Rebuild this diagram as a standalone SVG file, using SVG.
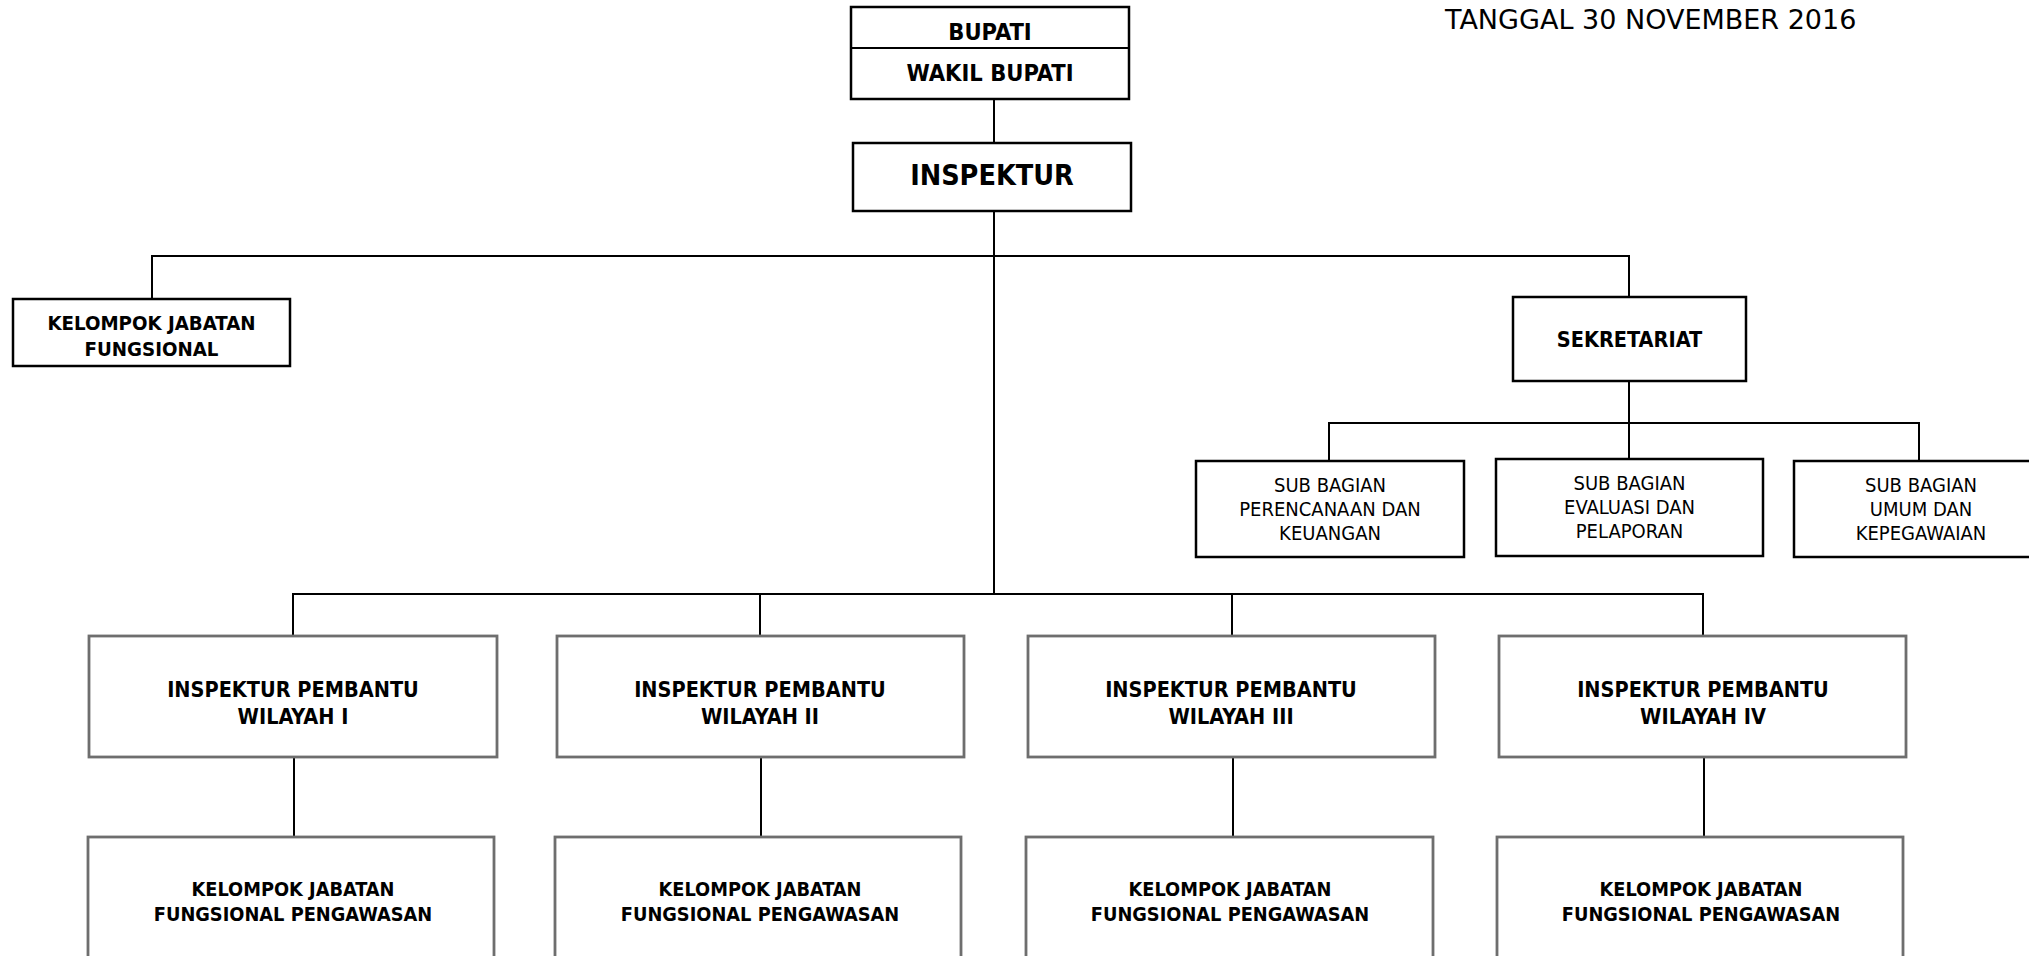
<svg xmlns="http://www.w3.org/2000/svg" width="2029" height="956" viewBox="0 0 2029 956">
<style>
  .bg { fill: #ffffff; }
  .box { fill: #ffffff; stroke: #000000; stroke-width: 2.5; }
  .gbox { fill: #ffffff; stroke: #6e6e6e; stroke-width: 2.8; }
  .conn line { stroke: #000000; stroke-width: 2; }
  text { font-family: "DejaVu Sans Condensed", "DejaVu Sans", sans-serif; fill: #000000; text-anchor: middle; }
  .b { font-weight: bold; }
  .t1 { font-size: 23.5px; }
  .t2 { font-size: 28.5px; }
  .t3 { font-size: 19.8px; }
  .t3a { font-size: 20.3px; }
  .t4 { font-size: 21.5px; }
  .t5 { font-size: 20px; }
  .date { font-family: "DejaVu Sans", sans-serif; font-size: 27px; text-anchor: start; }
</style>
<rect class="bg" x="0" y="0" width="2029" height="956"/>
<g id="connectors" class="conn">
  <line x1="994" y1="99" x2="994" y2="143"/>
  <line x1="994" y1="211" x2="994" y2="595"/>
  <line x1="151" y1="256" x2="1630" y2="256"/>
  <line x1="152" y1="255" x2="152" y2="299"/>
  <line x1="1629" y1="255" x2="1629" y2="297"/>
  <line x1="1629" y1="381" x2="1629" y2="459"/>
  <line x1="1328" y1="423" x2="1920" y2="423"/>
  <line x1="1329" y1="422" x2="1329" y2="461"/>
  <line x1="1919" y1="422" x2="1919" y2="461"/>
  <line x1="292" y1="594" x2="1704" y2="594"/>
  <line x1="293" y1="593" x2="293" y2="636"/>
  <line x1="760" y1="593" x2="760" y2="636"/>
  <line x1="1232" y1="593" x2="1232" y2="636"/>
  <line x1="1703" y1="593" x2="1703" y2="636"/>
  <line x1="294" y1="757" x2="294" y2="837"/>
  <line x1="761" y1="757" x2="761" y2="837"/>
  <line x1="1233" y1="757" x2="1233" y2="837"/>
  <line x1="1704" y1="757" x2="1704" y2="837"/>
</g>
<g id="tanggal">
  <text class="date" x="1445" y="29">TANGGAL 30 NOVEMBER 2016</text>
</g>
<g id="bupati">
  <rect class="box" x="851" y="7" width="278" height="92"/>
  <line x1="851" y1="48" x2="1129" y2="48" stroke="#000" stroke-width="2"/>
  <text class="b t1" x="990" y="40">BUPATI</text>
  <text class="b t1" x="990" y="81">WAKIL BUPATI</text>
</g>
<g id="inspektur">
  <rect class="box" x="853" y="143" width="278" height="68"/>
  <text class="b t2" x="992" y="185">INSPEKTUR</text>
</g>
<g id="kjf">
  <rect class="box" x="13" y="299" width="277" height="67"/>
  <text class="b t3a" x="151.5" y="330">KELOMPOK JABATAN</text>
  <text class="b t3a" x="151.5" y="356">FUNGSIONAL</text>
</g>
<g id="sekretariat">
  <rect class="box" x="1513" y="297" width="233" height="84"/>
  <text class="b t4" x="1629.5" y="347">SEKRETARIAT</text>
</g>
<g id="subbag-perencanaan">
  <rect class="box" x="1196" y="461" width="268" height="96"/>
  <text class="t5" x="1330" y="491.5">SUB BAGIAN</text>
  <text class="t5" x="1330" y="515.5">PERENCANAAN DAN</text>
  <text class="t5" x="1330" y="539.5">KEUANGAN</text>
</g>
<g id="subbag-evaluasi">
  <rect class="box" x="1496" y="459" width="267" height="97"/>
  <text class="t5" x="1629.5" y="489.5">SUB BAGIAN</text>
  <text class="t5" x="1629.5" y="513.5">EVALUASI DAN</text>
  <text class="t5" x="1629.5" y="537.5">PELAPORAN</text>
</g>
<g id="subbag-umum">
  <rect class="box" x="1794" y="461" width="260" height="96"/>
  <text class="t5" x="1921" y="491.5">SUB BAGIAN</text>
  <text class="t5" x="1921" y="515.5">UMUM DAN</text>
  <text class="t5" x="1921" y="539.5">KEPEGAWAIAN</text>
</g>
<g id="ipw1">
  <rect class="gbox" x="89" y="636" width="408" height="121"/>
  <text class="b t4" x="293" y="697">INSPEKTUR PEMBANTU</text>
  <text class="b t4" x="293" y="724">WILAYAH I</text>
</g>
<g id="ipw2">
  <rect class="gbox" x="557" y="636" width="407" height="121"/>
  <text class="b t4" x="760" y="697">INSPEKTUR PEMBANTU</text>
  <text class="b t4" x="760" y="724">WILAYAH II</text>
</g>
<g id="ipw3">
  <rect class="gbox" x="1028" y="636" width="407" height="121"/>
  <text class="b t4" x="1231" y="697">INSPEKTUR PEMBANTU</text>
  <text class="b t4" x="1231" y="724">WILAYAH III</text>
</g>
<g id="ipw4">
  <rect class="gbox" x="1499" y="636" width="407" height="121"/>
  <text class="b t4" x="1703" y="697">INSPEKTUR PEMBANTU</text>
  <text class="b t4" x="1703" y="724">WILAYAH IV</text>
</g>
<g id="kjfp1">
  <rect class="gbox" x="88" y="837" width="406" height="140"/>
  <text class="b t3" x="293" y="896">KELOMPOK JABATAN</text>
  <text class="b t3" x="293" y="921">FUNGSIONAL PENGAWASAN</text>
</g>
<g id="kjfp2">
  <rect class="gbox" x="555" y="837" width="406" height="140"/>
  <text class="b t3" x="760" y="896">KELOMPOK JABATAN</text>
  <text class="b t3" x="760" y="921">FUNGSIONAL PENGAWASAN</text>
</g>
<g id="kjfp3">
  <rect class="gbox" x="1026" y="837" width="407" height="140"/>
  <text class="b t3" x="1230" y="896">KELOMPOK JABATAN</text>
  <text class="b t3" x="1230" y="921">FUNGSIONAL PENGAWASAN</text>
</g>
<g id="kjfp4">
  <rect class="gbox" x="1497" y="837" width="406" height="140"/>
  <text class="b t3" x="1701" y="896">KELOMPOK JABATAN</text>
  <text class="b t3" x="1701" y="921">FUNGSIONAL PENGAWASAN</text>
</g>
</svg>
